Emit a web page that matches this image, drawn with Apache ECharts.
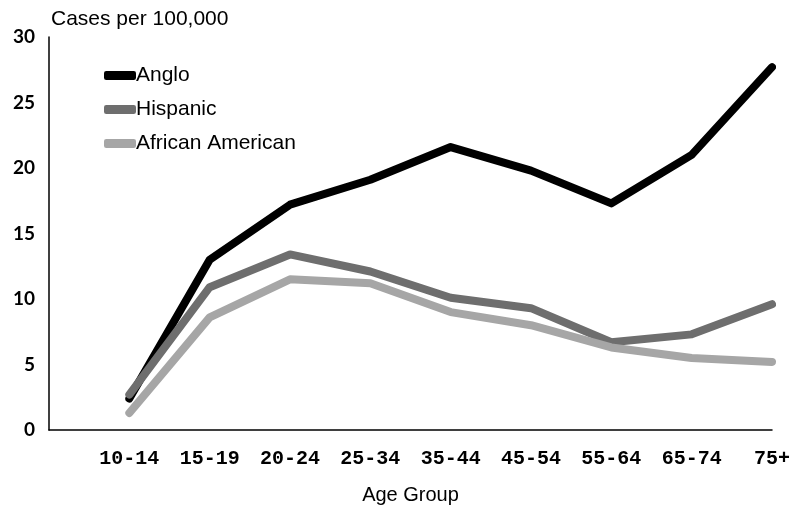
<!DOCTYPE html>
<html>
<head>
<meta charset="utf-8">
<script src="https://cdn.jsdelivr.net/npm/echarts@6/dist/echarts.min.js"></script>
<style>
  html, body { margin: 0; padding: 0; background: #fff; }
  #main { width: 790px; height: 509px; }
</style>
</head>
<body>
<div id="main"></div>
<script>
var chart = echarts.init(document.getElementById('main'));

// age groups along the x axis
var ageGroups = ['10-14', '15-19', '20-24', '25-34', '35-44', '45-54', '55-64', '65-74', '75+'];

// cases per 100,000
var anglo    = [2.4, 13.0, 17.2, 19.1, 21.6, 19.8, 17.3, 21.0, 27.7];
var hispanic = [2.7, 10.9, 13.4, 12.1, 10.1, 9.3, 6.7, 7.3, 9.6];
var africanAmerican = [1.3, 8.6, 11.5, 11.2, 9.0, 8.0, 6.3, 5.5, 5.2];

function toPoints(arr) {
  return arr.map(function (v, i) { return [i, v]; });
}

function lineSeries(name, data, color) {
  return {
    name: name,
    type: 'line',
    data: toPoints(data),
    symbol: 'none',
    lineStyle: { color: color, width: 8, cap: 'round', join: 'round' },
    itemStyle: { color: color }
  };
}

var option = {
  animation: false,
  backgroundColor: '#fff',
  title: {
    text: 'Cases per 100,000',
    left: 46,
    top: 4,
    textStyle: { fontFamily: 'Liberation Sans', fontSize: 21, fontWeight: 'normal', color: '#000' }
  },
  legend: {
    orient: 'vertical',
    left: 99,
    top: 60,
    itemGap: 13,
    itemWidth: 32,
    itemHeight: 9,
    icon: 'roundRect',
    textStyle: { fontFamily: 'Liberation Sans', fontSize: 21, color: '#000', padding: [0, 0, 0, -5] },
    data: ['Anglo', 'Hispanic', 'African American']
  },
  grid: {
    left: 49,
    right: 18,
    top: 37,
    bottom: 79,
    outerBoundsMode: 'none'
  },
  xAxis: {
    type: 'value',
    min: -1,
    max: 8,
    interval: 1,
    name: 'Age Group',
    nameLocation: 'middle',
    nameGap: 55,
    nameTextStyle: { fontFamily: 'Liberation Sans', fontSize: 20, color: '#000' },
    axisLine: { show: true, onZero: false, lineStyle: { color: '#000', width: 1.5 } },
    axisTick: { show: false },
    splitLine: { show: false },
    axisLabel: {
      margin: 19,
      fontFamily: 'Liberation Mono',
      fontWeight: 'bold',
      fontSize: 20,
      color: '#000',
      formatter: function (v) {
        return v >= 0 ? ageGroups[v] : '';
      }
    }
  },
  yAxis: {
    type: 'value',
    min: 0,
    max: 30,
    interval: 5,
    axisLine: { show: true, onZero: false, lineStyle: { color: '#000', width: 1.5 } },
    axisTick: { show: false },
    splitLine: { show: false },
    axisLabel: {
      margin: 14,
      fontFamily: 'Lato',
      fontWeight: 'bold',
      fontSize: 19,
      color: '#000'
    }
  },
  series: [
    lineSeries('Anglo', anglo, '#000000'),
    lineSeries('Hispanic', hispanic, '#6e6e6e'),
    lineSeries('African American', africanAmerican, '#a6a6a6')
  ]
};

chart.setOption(option);
</script>
</body>
</html>
